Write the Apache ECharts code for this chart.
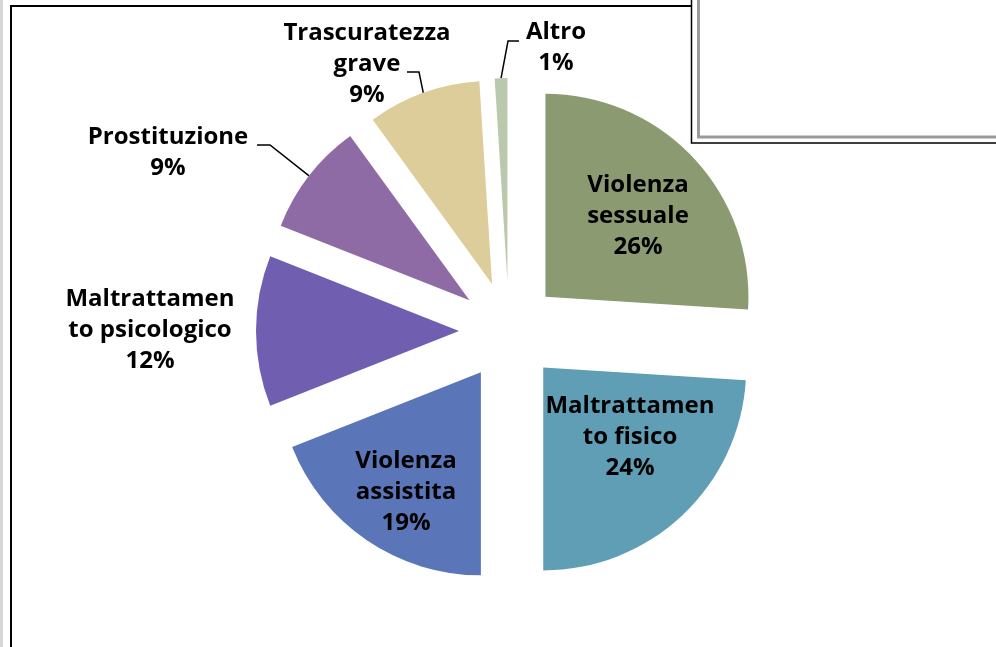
<!DOCTYPE html>
<html>
<head>
<meta charset="utf-8">
<script src="https://cdn.jsdelivr.net/npm/echarts@6/dist/echarts.min.js"></script>
<style>
	html, body {margin:0; padding:0; background:#fff;}
	#chart {width:996px; height:647px;}
</style>
</head>
<body>
<div id="chart"></div>
<script>
var categories = ['Violenza sessuale', 'Maltrattamento fisico', 'Violenza assistita',
	'Maltrattamento psicologico', 'Prostituzione', 'Trascuratezza grave', 'Altro'];
// testo delle etichette come nel grafico originale (a capo spezzato)
var labelNames = ['Violenza\nsessuale', 'Maltrattamen\nto fisico', 'Violenza\nassistita',
	'Maltrattamen\nto psicologico', 'Prostituzione', 'Trascuratezza\ngrave', 'Altro'];
var values = [26, 24, 19, 12, 9, 9, 1];
var colors = ['#8b9a71', '#5f9eb5', '#5a76b9', '#705fb1', '#8f6ba6', '#ddcd9a', '#bac8ad'];
var inside = [true, true, true, false, false, false, false];

var chart = echarts.init(document.getElementById('chart'));

var cx = 509, cy = 331, radius = 203, explode = 50;

// posizioni delle etichette (centro del testo)
var labelPos = [[638, 216], [630, 437], [406, 492], [150, 330], [168, 153], [367, 64], [556, 48]];
// linee guida: gomito e fine vicino all'etichetta
var guide = {
	4: [[270, 145], [257, 145]],
	5: [[419, 72], [407, 72]],
	6: [[508, 41], [519, 41]]
};

var total = 0;
values.forEach(function (v) { total += v; });

var series = [];
var cum = 0;
values.forEach(function (v, i) {
	var start = 90 - cum / total * 360;
	var mid = (start - v / total * 180) * Math.PI / 180;
	cum += v;
	var c = [cx + explode * Math.cos(mid), cy - explode * Math.sin(mid)];
	var arcPt = [c[0] + radius * Math.cos(mid), c[1] - radius * Math.sin(mid)];
	series.push({
		type: 'pie',
		name: categories[i],
		center: c,
		radius: radius,
		startAngle: start,
		clockwise: true,
		avoidLabelOverlap: false,
		silent: true,
		label: {
			show: true,
			position: inside[i] ? 'inside' : 'outside',
			formatter: labelNames[i] + '\n{d}%',
			color: '#000',
			fontFamily: 'Open Sans',
			fontWeight: 'bold',
			fontSize: 24,
			lineHeight: 31,
			align: 'center'
		},
		labelLine: {
			show: !!guide[i],
			lineStyle: {color: '#000', width: 1.5}
		},
		labelLayout: function (params) {
			if (params.dataIndex !== 0) return {};
			var p = labelPos[i];
			var out = {x: p[0], y: p[1], align: 'center', verticalAlign: 'middle'};
			if (guide[i]) {
				out.labelLinePoints = [arcPt, guide[i][0], guide[i][1]];
			}
			return out;
		},
		emphasis: {disabled: true},
		data: [
			{name: categories[i], value: v, itemStyle: {color: colors[i]}},
			{name: '', value: total - v, itemStyle: {color: 'rgba(0,0,0,0)'},
				label: {show: false}, labelLine: {show: false}}
		]
	});
});

var option = {
	animation: false,
	backgroundColor: '#fff',
	graphic: [
		{type: 'rect', shape: {x: 0, y: 0, width: 3, height: 647}, style: {fill: '#d6d6d6'}, silent: true},
		{type: 'rect', shape: {x: 11, y: 6, width: 1100, height: 1000}, style: {fill: 'none', stroke: '#000', lineWidth: 2}, silent: true},
		{type: 'rect', shape: {x: 691.5, y: -10, width: 400, height: 153}, style: {fill: '#fff', stroke: '#000', lineWidth: 1.5}, silent: true},
		{type: 'rect', shape: {x: 698.5, y: -10, width: 400, height: 147}, style: {fill: 'none', stroke: '#9a9a9a', lineWidth: 3}, silent: true}
	],
	series: series
};
chart.setOption(option);
</script>
</body>
</html>
